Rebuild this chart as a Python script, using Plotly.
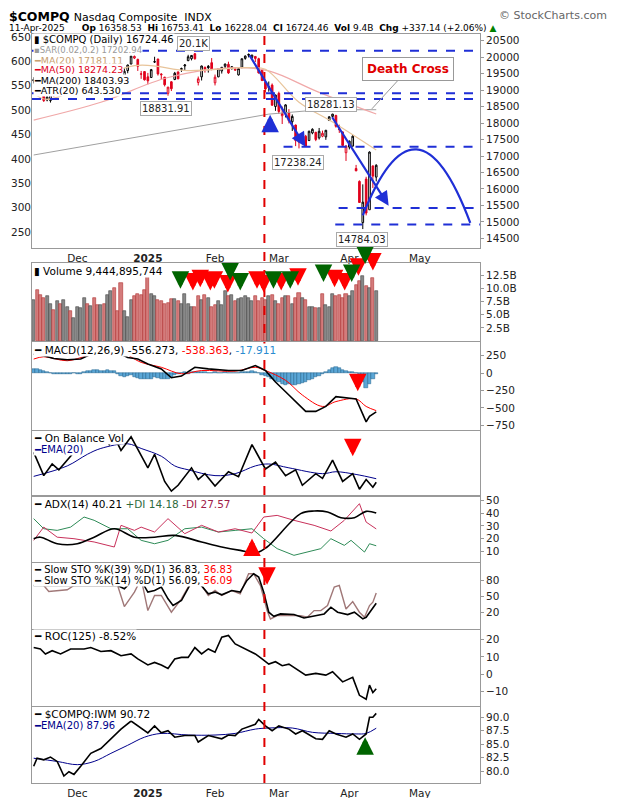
import plotly.graph_objects as go
from plotly.subplots import make_subplots

# ---------------- data ----------------
dates = ["Nov12","Nov13","Nov14","Nov15","Nov18","Nov19","Nov20","Nov21","Nov22","Nov25","Nov26","Nov27","Nov29",
 "Dec2","Dec3","Dec4","Dec5","Dec6","Dec9","Dec10","Dec11","Dec12","Dec13","Dec16","Dec17","Dec18","Dec19","Dec20",
 "Dec23","Dec24","Dec26","Dec27","Dec30","Dec31","Jan2","Jan3","Jan6","Jan7","Jan8","Jan10","Jan13","Jan14","Jan15",
 "Jan16","Jan17","Jan21","Jan22","Jan23","Jan24","Jan27","Jan28","Jan29","Jan30","Jan31","Feb3","Feb4","Feb5","Feb6",
 "Feb7","Feb10","Feb11","Feb12","Feb13","Feb14","Feb18","Feb19","Feb20","Feb21","Feb24","Feb25","Feb26","Feb27",
 "Feb28","Mar3","Mar4","Mar5","Mar6","Mar7","Mar10","Mar11","Mar12","Mar13","Mar14","Mar17","Mar18","Mar19","Mar20",
 "Mar21","Mar24","Mar25","Mar26","Mar27","Mar28","Mar31","Apr1","Apr2","Apr3","Apr4","Apr7","Apr8","Apr9","Apr10","Apr11"]
opens = [19320,19270,19240,18900,18700,18680,18990,19040,19030,19110,19060,19150,19130,19270,19380,19560,19740,19730,
 19820,19780,19840,19970,19930,19990,20090,20100,19650,19190,19590,19790,19970,19930,19480,19560,19400,19380,19850,
 19940,19460,19390,18900,19250,19320,19550,19650,19730,19890,19950,20100,19230,19400,19690,19720,19830,19220,19400,
 19580,19720,19780,19650,19600,19460,19690,19960,20080,19990,20020,19950,19610,19240,19100,19150,18500,18900,18220,
 18300,18310,18040,17940,17420,17640,17600,17470,17700,17720,17550,17600,17580,18080,18200,18230,17820,17730,17100,
 17270,17300,16620,16230,14980,16300,15370,16700,16360]
highs = [19390,19320,19260,18920,18840,19010,19000,19150,19070,19180,19180,19150,19230,19410,19490,19740,19780,19870,
 19850,19820,20050,19990,19980,20200,20150,20180,19710,19660,19770,20040,20070,19950,19580,19570,19520,19640,20010,
 19950,19510,19400,19090,19270,19550,19560,19680,19790,20070,20060,20120,19410,19740,19710,19760,19970,19470,19660,
 19700,19800,19860,19720,19690,19680,19950,20050,20110,20070,20030,19980,19640,19270,19260,19200,18860,18950,18500,
 18570,18420,18260,17950,17620,17700,17640,17770,17840,17730,17850,17770,17790,18200,18280,18250,17950,17740,17330,
 17470,17640,16730,16260,16140,16370,17140,16710,16750]
lows = [19200,19180,19080,18640,18660,18620,18800,18860,18960,18980,19030,19020,19110,19250,19360,19540,19690,19720,
 19720,19660,19830,19890,19810,19980,20030,19360,19340,19180,19510,19780,19940,19580,19340,19290,19170,19370,19820,
 19440,19320,19110,18830,18970,19300,19330,19550,19610,19880,19900,19920,19140,19290,19530,19530,19600,19140,19390,
 19500,19650,19490,19620,19590,19440,19660,19920,19990,19950,19850,19500,19270,18930,18950,18530,18370,18280,17970,
 18170,17990,17760,17300,17230,17430,17290,17450,17660,17450,17500,17570,17490,18060,18160,17860,17700,17300,16850,
 17200,17290,16540,15590,14784,15200,15370,16030,16230]
closes = [19280,19230,19110,18680,18790,18990,18970,19020,19000,19050,19170,19060,19220,19400,19480,19730,19700,19860,
 19740,19690,20030,19900,19930,20170,20110,19390,19370,19570,19760,20030,20020,19720,19490,19310,19280,19620,19860,
 19490,19480,19160,19090,19040,19510,19340,19630,19760,20010,20050,19950,19340,19730,19630,19680,19630,19390,19650,
 19690,19790,19520,19710,19640,19650,19950,20030,20060,20060,19960,19520,19290,19030,19080,18540,18850,18350,18290,
 18550,18070,18200,17470,17440,17650,17300,17750,17810,17500,17750,17690,17780,18190,18270,17900,17800,17320,17300,
 17450,17600,16550,15590,15600,15270,17120,16390,16720]
volume_b = [7.8,9.7,8.7,8.1,8.5,7.1,5.9,7.6,7.0,7.8,6.5,5.6,4.3,6.5,6.2,8.1,7.1,6.7,8.1,6.8,6.8,7.0,8.7,9.4,10.0,5.6,
 11.0,5.6,4.6,7.8,8.5,8.9,8.7,9.7,13.4,8.9,8.6,7.8,7.6,7.1,7.2,8.0,8.0,7.5,7.0,8.9,7.0,6.5,6.5,8.5,7.8,8.7,8.1,6.5,
 6.8,7.5,6.8,9.4,8.5,8.7,7.5,8.0,8.2,8.6,8.2,7.5,8.5,7.5,8.1,7.8,8.5,8.7,7.5,7.1,8.1,8.5,8.5,7.0,8.1,9.2,8.1,7.8,
 6.5,6.5,6.3,6.2,8.9,6.8,6.5,9.0,8.5,8.7,8.1,8.9,8.5,9.4,10.6,11.3,12.4,10.5,10.0,11.9,9.45]

ma20_x = [0,4,30,46,64,69,79,89,102]; ma20_v = [18900,18720,19740,19590,19680,19630,18630,18030,17181]
ma50_x = [0,20,40,60,70,85,102]; ma50_v = [18090,18630,19380,19680,19580,18930,18274]
ma200_x = [0,70,85,102]; ma200_v = [17030,18270,18400,18404]

macd_x = [0,3,6,10,14,17,25,28,31,34,38,41,44,48,52,58,62,66,69,72,75,78,81,84,87,90,93,96,99,100,102]
macd_v = [270,249,211,192,202,272,295,225,202,131,61,-66,-42,84,61,38,38,108,38,-127,-267,-408,-549,-549,-478,-338,-352,-370,-699,-619,-556]
sig_x = [0,3,10,16,25,32,38,44,50,60,66,69,75,80,86,90,96,99,102]
sig_v = [202,235,178,249,319,155,84,-9,38,28,84,38,-103,-314,-478,-408,-370,-478,-538]
hist_v = [60,55,45,30,15,0,-10,-15,-15,-15,-10,-10,-5,-10,-15,10,25,35,40,40,35,30,40,35,30,-10,-40,-50,-40,-30,
 -50,-70,-80,-90,-90,-80,-60,-70,-80,-90,-80,-50,-30,-10,5,10,-10,15,20,10,15,10,-5,5,10,0,5,10,5,0,
 -5,5,10,15,20,25,15,0,-20,-40,-60,-90,-110,-130,-150,-170,-160,-170,-175,-160,-140,-120,-100,-80,-60,-40,-10,10,40,70,
 90,80,50,30,20,10,-5,-60,-130,-210,-150,-80,-18]

obv_x = [0,3,5.5,7.5,12,16,19,21,22.5,24,26,29,34,36,39,41,43,47,49,51,54,58,61,65,69,72,75,78,80,84,86,89,92,95,97,99,101,102]
obv_v = [9.5,3.5,6.5,5.0,9.5,13.5,12.5,13.5,11.5,13.5,10.0,13.5,5.5,9.0,2.0,-0.5,1.0,5.5,2.5,4.0,0.8,4.5,3.2,11.5,5.2,7.0,3.5,5.0,1.0,4.0,2.8,7.5,2.0,4.0,0.0,2.5,0.5,1.8]
obvema_x = [0,10,16,20,28,32,38,42,46,54,60,66,70,76,86,90,96,102]
obvema_v = [3.3,6.0,9.0,10.5,11.7,10.5,8.5,6.0,5.0,3.5,4.0,6.0,6.5,5.5,4.0,4.5,3.8,2.7]

adx_x = [0,2,7,13,18,24,30,36,42,50,56,61.5,66.5,69.5,79.5,83.5,87.5,91.5,95.5,99,102]
adx_v = [19.8,21,15.8,15.8,21,27.7,21,21,22.4,17.2,13.2,10.5,8.7,13.2,39.7,41.8,41,36.5,36.5,41.5,40.2]
pdi_x = [0,3,7,11,15,18,23,28,32,36,40,45,50,55,60,65,68.5,72.5,77.5,81.5,85.5,88.5,92.5,94.5,98.5,100,102]
pdi_v = [35.7,27.7,26.4,29,37,34.4,27.7,27.7,18.5,15.8,18.5,27.7,29,25.1,26.4,27.7,19.8,11.9,6.6,9.2,11.9,19.8,14.5,18.5,9.2,15.8,14.18]
mdi_x = [0,3,7,12,18,24,26,30,32,36,40,45,50,55,60,65,68.5,72.5,77.5,83.5,88.5,92.5,97,99,102]
mdi_v = [18.5,29,21,19.8,17.2,13.2,30.4,26.4,29,25.1,35.7,23.8,30.4,25.1,27.7,24.3,37,38.3,34.4,30.4,25.9,34.4,47.6,33,27.57]

sto39_x = [0,10,25,27,30,32,34,36,38,40,41.5,44,47,48,50,52,54,56,59,61.5,63.5,65.5,67,68.5,70,71.5,73.5,77.5,80.5,83.5,86.5,88.5,90.5,93.5,95.5,98,99,102]
sto39_v = [70.5,70.5,70.5,64.2,83.2,80,57.9,61,67.4,45.3,32.6,42.1,76.8,84.4,70.5,54.7,57.9,52.8,61,57.9,80,92.6,86.3,57.9,20,12.4,16.8,15.6,9.3,12.4,16.8,29.5,20,15.6,20,7.4,10.5,36.83]
sto14_x = [3,4.5,10,12,25,27,30,32,34,36,38,41,44,46,48,50,52,54,56,59,61.5,64,65.5,67.5,69.5,70.5,72.5,76.5,79.5,81.5,83.5,85.5,87.5,89.5,91,93,95,97,98.5,100,101,102]
sto14_v = [70.5,59.2,62.4,70.5,70.5,30.7,57.9,83.2,23.1,51.6,51.6,20,45.3,67.4,86.3,70.5,51.6,61,51.6,61,54.7,92.6,92.6,70.5,23.1,7.4,13.7,13.7,13.7,10.5,23.1,23.1,32.6,67.4,70.5,26.1,40,20,10.5,32.6,39,56.09]

roc_x = [0,2,3.5,5.5,8,11,15,17,20,23,26,29,31,34,36,38,40,42,44,46,48,50,52,54,56,58,60,64,66,68,70,72,74,76,78,81,84,87,89,92,95,97,99,100,101,102]
roc_v = [15.4,14.6,11.7,13.6,11.7,14.6,14.6,15.4,13.1,13.6,10.7,11.7,8.8,5.3,6.8,5.3,3.3,8.8,9.7,9.7,15.4,11.7,14.6,12.7,21.4,22.4,17.5,13.6,11.7,8.8,5.8,7.2,4.9,5.8,3.3,-0.6,0.4,-0.6,1.4,-4.5,-1.9,-12.3,-14.6,-6.4,-10.7,-8.52]

rat_x = [0,1,3,5,7,9,10.5,12,14,17,20,23,26,29,31,34,36,38,40,42,45,48,49,52,56,58,60,62,66,67,69,71,73,76,78,80,84,86,88,90,93,95,97,99,100,101,102]
rat_v = [80.9,82.4,82.1,82.6,81.8,79.1,79.9,79.4,80.9,83.3,84.2,86,87.8,89.3,88.4,87.1,88.4,87.1,87.5,86.3,86.6,86.6,85.4,86.6,86,86.7,86.6,87.8,88.7,89.6,88.4,87.5,88.4,87.8,86.9,87.5,86,85.9,87.5,86.9,86.3,86.9,85.9,86.9,90,90,90.72]
ratema_x = [0,7,13,18,23,28,33,38,46,54,60,66,70,77,83,90,96,99,102]
ratema_v = [82.4,81.8,81.2,81.8,83.3,84.8,86.3,87,86.7,86.7,87,87.8,88,88,87.2,87,86.9,87,87.96]

vol_dn_x = [47.4,49.6,52.6,53.8,57.8,66.5,68.5,73.7,78.7,89.6,92.6,96.7,101]
vol_dn_y = [9.6,10.2,9.6,9.9,9.2,9.9,9.2,9.6,10.5,10.2,9.6,12.4,13.4]
vol_up_x = [43.7,58.5,61.5,71.4,76.4,86.3,94.7,98.7]
vol_up_y = [9.9,11.5,9.6,9.9,9.9,11.2,11.2,14.6]

tick_pos = [13,34,54,73,94,115]
tick_txt = ["Dec","<b>2025</b>","Feb","Mar","Apr","May"]

# ---------------- figure ----------------
# page has an 8px body margin: figure px = page px - 8
OFF = 8
W, H = 604, 790
def fy(page_px):
    return 1 - (page_px - OFF) / H

BLUE = "#1f2fd6"
fig = make_subplots(rows=8, cols=1, shared_xaxes=True, vertical_spacing=0)
n = len(closes)
idx = list(range(n))
up_i = [i for i in idx if i == 0 or closes[i] >= closes[i-1]]
dn_i = [i for i in idx if i > 0 and closes[i] < closes[i-1]]
for sel, col in ((up_i, "black"), (dn_i, "#e0001b")):
    fig.add_trace(go.Candlestick(x=sel, open=[opens[i] for i in sel], high=[highs[i] for i in sel],
        low=[lows[i] for i in sel], close=[closes[i] for i in sel],
        increasing=dict(line=dict(color=col, width=1), fillcolor="white"),
        decreasing=dict(line=dict(color=col, width=1), fillcolor=col), whiskerwidth=0), row=1, col=1)
fig.add_trace(go.Scatter(x=ma200_x, y=ma200_v, mode="lines", line=dict(color="#a0a0a0", width=1)), row=1, col=1)
fig.add_trace(go.Scatter(x=ma50_x, y=ma50_v, mode="lines", line=dict(color="#f0a8a8", width=1.2, shape="spline")), row=1, col=1)
fig.add_trace(go.Scatter(x=ma20_x, y=ma20_v, mode="lines", line=dict(color="#e8c49a", width=1.2, shape="spline")), row=1, col=1)

vcol = ["#888888" if (i == 0 or closes[i] >= closes[i-1]) else "#d47b7b" for i in idx]
vline = ["#444444" if c == "#888888" else "#b03030" for c in vcol]
fig.add_trace(go.Bar(x=idx, y=volume_b, marker=dict(color=vcol, line=dict(color=vline, width=0.6)), width=0.9), row=2, col=1)

fig.add_trace(go.Bar(x=idx, y=hist_v, marker=dict(color="#5aa6d6", line=dict(color="#1d5f8a", width=0.5)), width=1.0), row=3, col=1)
fig.add_trace(go.Scatter(x=sig_x, y=sig_v, mode="lines", line=dict(color="red", width=1, shape="spline")), row=3, col=1)
fig.add_trace(go.Scatter(x=macd_x, y=macd_v, mode="lines", line=dict(color="black", width=1.6)), row=3, col=1)

fig.add_trace(go.Scatter(x=obvema_x, y=obvema_v, mode="lines", line=dict(color="#00008b", width=1, shape="spline")), row=4, col=1)
fig.add_trace(go.Scatter(x=obv_x, y=obv_v, mode="lines", line=dict(color="black", width=1.6)), row=4, col=1)

fig.add_trace(go.Scatter(x=pdi_x, y=pdi_v, mode="lines", line=dict(color="#2e8b57", width=1)), row=5, col=1)
fig.add_trace(go.Scatter(x=mdi_x, y=mdi_v, mode="lines", line=dict(color="#c8305a", width=1)), row=5, col=1)
fig.add_trace(go.Scatter(x=adx_x, y=adx_v, mode="lines", line=dict(color="black", width=1.6, shape="spline")), row=5, col=1)

for yv, dash in ((80, "solid"), (20, "solid"), (50, "dashdot")):
    fig.add_hline(y=yv, line=dict(color="#555", width=1, dash=dash), row=6, col=1)
fig.add_trace(go.Scatter(x=sto14_x, y=sto14_v, mode="lines", line=dict(color="#a07878", width=1.4)), row=6, col=1)
fig.add_trace(go.Scatter(x=sto39_x, y=sto39_v, mode="lines", line=dict(color="black", width=1.6)), row=6, col=1)

fig.add_hline(y=0, line=dict(color="#555", width=1, dash="dashdot"), row=7, col=1)
fig.add_trace(go.Scatter(x=roc_x, y=roc_v, mode="lines", line=dict(color="black", width=1.6)), row=7, col=1)

fig.add_trace(go.Scatter(x=ratema_x, y=ratema_v, mode="lines", line=dict(color="#00008b", width=1, shape="spline")), row=8, col=1)
fig.add_trace(go.Scatter(x=rat_x, y=rat_v, mode="lines", line=dict(color="black", width=1.6)), row=8, col=1)

def blk(xr, yr_, x, y, color, down=True):
    fig.add_annotation(x=x, y=y, xref=xr, yref=yr_, ax=0, ay=(-14 if down else 14), text="", showarrow=True,
                       arrowhead=2, arrowsize=0.7, arrowwidth=5, arrowcolor=color, standoff=0)
for x, y in zip(vol_dn_x, vol_dn_y):
    blk("x2", "y2", x, y, "#ff0000")
for x, y in zip(vol_up_x, vol_up_y):
    blk("x2", "y2", x, y, "#006400")
blk("x3", "y3", 96.5, -260, "#ff0000")
blk("x4", "y4", 95, 8.5, "#ff0000")
blk("x5", "y5", 65, 20, "#ff0000", down=False)
blk("x6", "y6", 69.5, 72, "#ff0000")
blk("x8", "y8", 98.7, 86.3, "#006400", down=False)
blk("x", "y", 70.4, 18250, BLUE, down=False)

dom = [(34, 248), (263, 341), (342, 430), (431, 495), (497, 562), (563, 629), (630, 706), (707, 783)]
yr = [[14210, 20700], [0, 14.8], [-816, 447], [-1.5, 15], [1.3, 52.9], [-11.6, 112.8], [-18.5, 25.6], [77.8, 91.9]]
ticks = [list(range(14500, 20501, 500)), [2.5, 5, 7.5, 10, 12.5], [-750, -500, -250, 0, 250], [], [10, 20, 30, 40, 50],
         [20, 50, 80], [-10, 0, 10, 20], [80, 82.5, 85, 87.5, 90]]
tfmt = [[str(v) for v in range(14500, 20501, 500)], ["2.5B", "5.0B", "7.5B", "10.0B", "12.5B"], None, None, None, None, None,
        ["80.0", "82.5", "85.0", "87.5", "90.0"]]
axfont = dict(family="DejaVu Sans", size=10.5, color="#222")
for k in range(8):
    yn = "yaxis" if k == 0 else f"yaxis{k+1}"
    xn = "xaxis" if k == 0 else f"xaxis{k+1}"
    d = dict(domain=[fy(dom[k][1]), fy(dom[k][0])], range=yr[k], side="right", showgrid=False,
             zeroline=False, tickvals=ticks[k], showline=True, linecolor="#999", mirror=True, ticks="outside",
             ticklen=3, tickcolor="#999", tickfont=axfont, fixedrange=True, automargin=False)
    if tfmt[k]:
        d["ticktext"] = tfmt[k]
    fig.layout[yn].update(d)
    fig.layout[xn].update(dict(range=[-0.5, 132.9], showgrid=False, zeroline=False, showline=True, linecolor="#999",
                               mirror=True, tickvals=tick_pos, ticktext=tick_txt, ticks="",
                               tickfont=axfont, showticklabels=(k in (0, 7)), automargin=False,
                               ticklabelstandoff=0, rangeslider=dict(visible=False)))
a, b = 14.8, 10989
fig.update_layout(yaxis9=dict(overlaying="y", side="left", range=[(14210 - b) / a, (20700 - b) / a],
                              tickvals=list(range(250, 651, 50)), showgrid=False, zeroline=False,
                              tickfont=axfont, ticks="", fixedrange=True, anchor="x", automargin=False))
fig.add_trace(go.Scatter(x=[None], y=[None], yaxis="y9", xaxis="x", showlegend=False))

for yv, x0 in ((20190, -0.5), (18900, -0.5), (18730, -0.5), (17280, 74.4), (15420, 90.8), (14920, 89.8)):
    fig.add_shape(type="line", x0=x0, x1=132.9, y0=yv, y1=yv, xref="x", yref="y",
                  line=dict(color=BLUE, width=2, dash="dash"))
fig.add_shape(type="path", path="M 98,15200 Q 114,19315 130,14970", xref="x", yref="y",
              line=dict(color=BLUE, width=2.2))
fig.add_shape(type="line", x0=68.7, x1=68.7, y0=fy(783), y1=fy(34), xref="x", yref="paper",
              line=dict(color="#e00000", width=2, dash="dash"))

def arrow(x0, y0, x1, y1):
    fig.add_annotation(x=x1, y=y1, ax=x0, ay=y0, xref="x", yref="y", axref="x", ayref="y", text="",
                       showarrow=True, arrowhead=2, arrowsize=1.3, arrowwidth=2.2, arrowcolor=BLUE)
arrow(64, 20100, 80.9, 17280)
arrow(88.6, 18220, 105.7, 15490)

lblfont = dict(family="DejaVu Sans", size=10, color="#222")
for x, y, t in ((47.6, 20400, "20.1K"), (39.4, 18450, "18831.91"), (78.7, 16800, "17238.24"),
                (88.6, 18560, "18281.13"), (97.7, 14480, "14784.03")):
    fig.add_annotation(x=x, y=y, xref="x", yref="y", text=t, showarrow=False, font=lblfont,
                       bgcolor="white", bordercolor="#aaa", borderwidth=1, borderpad=1)
fig.add_annotation(x=100.7, y=18430, ax=111.6, ay=19640, xref="x", yref="y", axref="x", ayref="y",
                   text="<b>Death Cross</b>", font=dict(family="DejaVu Sans", size=12, color="#e00000"),
                   bgcolor="white", bordercolor="#999", borderwidth=1, borderpad=4,
                   showarrow=True, arrowhead=0, arrowwidth=1, arrowcolor="#999")

fig.add_annotation(x=0, y=1, xref="paper", yref="paper", xanchor="left", yanchor="top", showarrow=False,
                   text="<b>$COMPQ</b> <span style='font-size:11px'>Nasdaq Composite  INDX</span>",
                   font=dict(family="DejaVu Sans", size=12.5, color="black"), xshift=-24, borderpad=0)
fig.add_annotation(x=0, y=fy(21.5), xref="paper", yref="paper", xanchor="left", yanchor="top", showarrow=False,
                   text="11-Apr-2025      <b>Op</b> 16358.53  <b>Hi</b> 16753.41  <b>Lo</b> 16228.04  <b>Cl</b> 16724.46  <b>Vol</b> 9.4B  <b>Chg</b> +337.14 (+2.06%) <span style='color:green'>▲</span>",
                   font=dict(family="DejaVu Sans", size=9, color="black"), xshift=-24, borderpad=0)
fig.add_annotation(x=1, y=1, xref="paper", yref="paper", xanchor="right", yanchor="top", showarrow=False,
                   text="© StockCharts.com", font=dict(family="DejaVu Sans", size=11, color="#666"), xshift=128, borderpad=0)

def legend(ypx, text, size=10.5):
    fig.add_annotation(x=0, y=fy(ypx), xref="paper", yref="paper", xanchor="left", yanchor="middle",
                       showarrow=False, text=text, font=dict(family="DejaVu Sans", size=size, color="black"),
                       bgcolor="white", xshift=1, borderpad=0)
legend(40, "▮ $COMPQ (Daily) 16724.46", 10)
legend(50, "<span style='color:#999'>▪SAR(0.02,0.2) 17202.94</span>", 8.5)
legend(60, "<span style='color:#c8a070'>━MA(20) 17181.11</span>", 9.5)
legend(70, "<span style='color:#e0001b'>━MA(50) 18274.23</span>", 9.5)
legend(80, "━MA(200) 18403.93", 9.5)
legend(90, "━ATR(20) 643.530", 9.5)
legend(271, "▮ Volume 9,444,895,744")
legend(350, "━ MACD(12,26,9) -556.273, <span style='color:red'>-538.363</span>, <span style='color:#2a8bd0'>-17.911</span>")
legend(438, "━ On Balance Vol")
legend(449, "<span style='color:#00008b'>━EMA(20)</span>", 10)
legend(504, "━ ADX(14) 40.21 <span style='color:#2e6b3e'>+DI 14.18</span> <span style='color:#a0204a'>-DI 27.57</span>")
legend(569, "━ Slow STO %K(39) %D(1) 36.83, <span style='color:red'>36.83</span>", 10)
legend(580, "━ Slow STO %K(14) %D(1) 56.09, <span style='color:red'>56.09</span>", 10)
legend(636, "━ ROC(125) -8.52%")
legend(714, "━ $COMPQ:IWM 90.72")
legend(725, "<span style='color:#00008b'>━EMA(20) 87.96</span>", 10)

fig.update_layout(width=W, height=H, margin=dict(l=24, r=132, t=0, b=0, autoexpand=False), showlegend=False,
                  plot_bgcolor="white", paper_bgcolor="white", bargap=0)
fig.write_html("out.html")
